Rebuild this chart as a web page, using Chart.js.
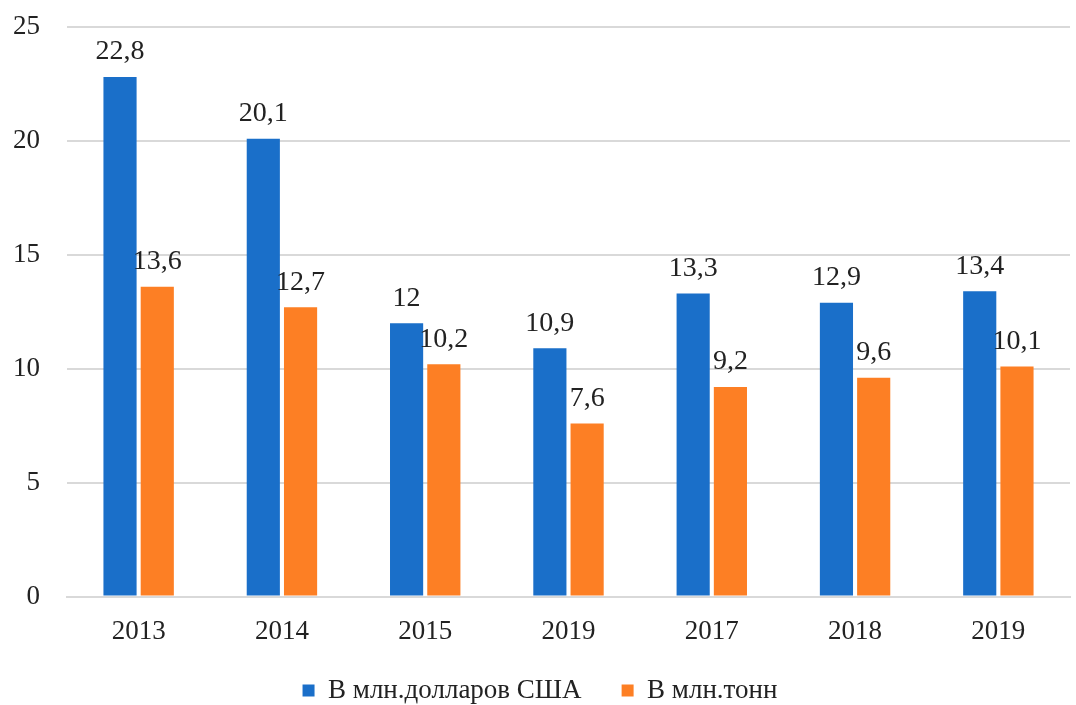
<!DOCTYPE html>
<html>
<head>
<meta charset="utf-8">
<script src="https://cdn.jsdelivr.net/npm/chart.js@4"></script>
<style>
  html, body { margin: 0; padding: 0; background: #fff; }
  #wrap { width: 1076px; height: 705px; }
</style>
</head>
<body>
<div id="wrap"><canvas id="chart"></canvas></div>
<script>
const years = ["2013", "2014", "2015", "2019", "2017", "2018", "2019"];
const usdValues = [22.8, 20.1, 12, 10.9, 13.3, 12.9, 13.4];
const tonValues = [13.6, 12.7, 10.2, 7.6, 9.2, 9.6, 10.1];
const seriesNames = ["В млн.долларов США", "В млн.тонн"];

const FONT = "'Liberation Serif', 'Times New Roman', serif";
const LEGEND_SHRINK = 22;

// подписи значений над столбцами
const valueLabels = {
  id: "valueLabels",
  afterDatasetsDraw(chart) {
    const ctx = chart.ctx;
    ctx.save();
    ctx.font = "28px " + FONT;
    ctx.fillStyle = "#222";
    ctx.textAlign = "center";
    ctx.textBaseline = "bottom";
    chart.data.datasets.forEach((ds, i) => {
      chart.getDatasetMeta(i).data.forEach((bar, j) => {
        const txt = String(ds.data[j]).replace(".", ",");
        ctx.fillText(txt, bar.x, bar.y - 11);
      });
    });
    ctx.restore();
  },
};

// легенда: большой зазор между элементами, но меньше места по вертикали
const legendSqueeze = {
  id: "legendSqueeze",
  beforeLayout(chart) {
    const lg = chart.legend;
    if (lg && !lg._squeezed) {
      const fit = lg.fit.bind(lg);
      lg.fit = function () {
        fit();
        this.height -= LEGEND_SHRINK;
      };
      lg._squeezed = true;
    }
  },
  afterLayout(chart) {
    const lg = chart.legend;
    if (lg) {
      lg.top -= LEGEND_SHRINK;
    }
  },
};

new Chart(document.getElementById("chart"), {
  type: "bar",
  data: {
    labels: years,
    datasets: [
      {
        label: seriesNames[0],
        data: usdValues,
        backgroundColor: "#1a6fc9",
      },
      {
        label: seriesNames[1],
        data: tonValues,
        backgroundColor: "#fd7f24",
      },
    ],
  },
  options: {
    responsive: true,
    maintainAspectRatio: false,
    animation: false,
    categoryPercentage: 0.52,
    barPercentage: 0.89,
    layout: { padding: { top: 27, right: 6, left: 10, bottom: -9 } },
    plugins: {
      legend: {
        position: "bottom",
        labels: {
          boxWidth: 12,
          boxHeight: 12,
          padding: 40,
          color: "#222",
          font: { family: FONT, size: 27 },
        },
      },
      tooltip: { enabled: false },
    },
    scales: {
      x: {
        grid: { display: false },
        border: { color: "#d9d9d9", width: 2 },
        ticks: { color: "#222", padding: 11, font: { family: FONT, size: 27 } },
      },
      y: {
        min: 0,
        max: 25,
        afterFit(scale) {
          scale.width = 57;
          scale.paddingTop = 0;
        },
        ticks: { stepSize: 5, color: "#222", padding: 27, font: { family: FONT, size: 27 } },
        grid: { color: "#d9d9d9", lineWidth: 2, drawTicks: false },
        border: { display: false },
      },
    },
  },
  plugins: [valueLabels, legendSqueeze],
});
</script>
</body>
</html>
